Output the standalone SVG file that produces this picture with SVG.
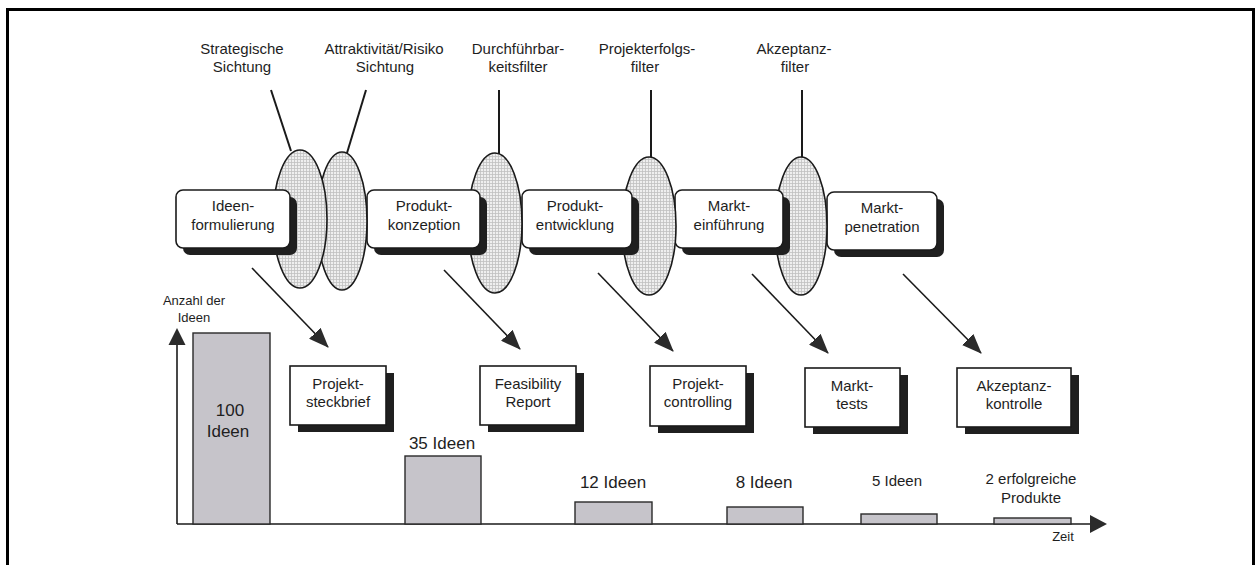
<svg xmlns="http://www.w3.org/2000/svg" width="1255" height="565" viewBox="0 0 1255 565">
  <defs>
    <pattern id="mesh" width="3" height="3" patternUnits="userSpaceOnUse">
      <rect width="3" height="3" fill="#efefef"/>
      <path d="M0 0.5H3M0.5 0V3" stroke="#c0c0c0" stroke-width="0.8"/>
    </pattern>
    <marker id="head" viewBox="0 0 20 16" refX="19" refY="8" markerWidth="20" markerHeight="16" markerUnits="userSpaceOnUse" orient="auto">
      <path d="M0 0L20 8L0 16Z" fill="#2b2b2b"/>
    </marker>
    <style>
      text { font-family: "Liberation Sans", Arial, sans-serif; fill: #1e1e1e; text-anchor: middle; }
      .t15 { font-size: 15px; }
      .t17 { font-size: 17px; }
      .t13 { font-size: 13px; }
      .shadow { fill: #1f1f1f; }
      .box { fill: #ffffff; stroke: #1a1a1a; stroke-width: 1.6; }
      .filter { fill: url(#mesh); stroke: #1a1a1a; stroke-width: 1.6; }
      .bar { fill: #c6c4ca; stroke: #2a2a2a; stroke-width: 1.4; }
      .wire { stroke: #1a1a1a; stroke-width: 2; fill: none; }
      .arrow { stroke: #1a1a1a; stroke-width: 1.6; fill: none; marker-end: url(#head); }
    </style>
  </defs>

  <rect x="7.5" y="9.5" width="1246" height="600" fill="#ffffff" stroke="#000000" stroke-width="3"/>

  <!-- filter labels -->
  <g id="label-strategisch">
    <text class="t15" x="242" y="54">Strategische</text>
    <text class="t15" x="242" y="72">Sichtung</text>
  </g>
  <g id="label-attraktivitaet">
    <text class="t15" x="384" y="54">Attraktivität/Risiko</text>
    <text class="t15" x="385" y="72">Sichtung</text>
  </g>
  <g id="label-durchfuehrbarkeit">
    <text class="t15" x="518" y="54">Durchführbar-</text>
    <text class="t15" x="518" y="72">keitsfilter</text>
  </g>
  <g id="label-projekterfolg">
    <text class="t15" x="647" y="54">Projekterfolgs-</text>
    <text class="t15" x="645" y="72">filter</text>
  </g>
  <g id="label-akzeptanz">
    <text class="t15" x="794" y="54">Akzeptanz-</text>
    <text class="t15" x="795" y="72">filter</text>
  </g>

  <!-- connectors: filter leaders, result arrows, axes -->
  <g id="connectors">
    <line class="wire" x1="271" y1="90" x2="291" y2="151"/>
    <line class="wire" x1="366" y1="90" x2="347" y2="153"/>
    <line class="wire" x1="499" y1="90" x2="499" y2="154"/>
    <line class="wire" x1="651" y1="90" x2="651" y2="157"/>
    <line class="wire" x1="802" y1="90" x2="802" y2="157"/>

    <line class="arrow" x1="252" y1="268" x2="328" y2="347"/>
    <line class="arrow" x1="444" y1="270" x2="520" y2="349"/>
    <line class="arrow" x1="598" y1="273" x2="673" y2="351"/>
    <line class="arrow" x1="752" y1="274" x2="828" y2="353"/>
    <line class="arrow" x1="903" y1="274" x2="981" y2="353"/>

    <line x1="177" y1="524" x2="177" y2="340" stroke="#1a1a1a" stroke-width="1.6"/>
    <path d="M168.5 345L177 328L185.5 345Z" fill="#2b2b2b"/>
    <line x1="177" y1="524" x2="1094" y2="524" stroke="#1a1a1a" stroke-width="1.6"/>
    <path d="M1090 515L1107 524L1090 533Z" fill="#2b2b2b"/>
  </g>

  <!-- process stages and filters (stacking order matters) -->
  <g id="stage-marktpenetration">
    <rect class="shadow" x="834" y="199" width="110" height="58" rx="7"/>
    <rect class="box" x="827" y="192" width="110" height="58" rx="7"/>
    <text class="t15" x="882" y="213">Markt-</text>
    <text class="t15" x="882" y="232">penetration</text>
  </g>
  <g id="filter-akzeptanz">
    <ellipse class="filter" cx="801" cy="226" rx="26" ry="69"/>
  </g>
  <g id="stage-markteinfuehrung">
    <rect class="shadow" x="682" y="197" width="108" height="58" rx="7"/>
    <rect class="box" x="675" y="190" width="108" height="58" rx="7"/>
    <text class="t15" x="729" y="211">Markt-</text>
    <text class="t15" x="729" y="230">einführung</text>
  </g>
  <g id="filter-projekterfolg">
    <ellipse class="filter" cx="649" cy="226" rx="27" ry="69"/>
  </g>
  <g id="stage-produktentwicklung">
    <rect class="shadow" x="529" y="197" width="110" height="58" rx="7"/>
    <rect class="box" x="522" y="190" width="110" height="58" rx="7"/>
    <text class="t15" x="575" y="211">Produkt-</text>
    <text class="t15" x="575" y="230">entwicklung</text>
  </g>
  <g id="filter-durchfuehrbarkeit">
    <ellipse class="filter" cx="495" cy="223" rx="27" ry="70"/>
  </g>
  <g id="stage-produktkonzeption">
    <rect class="shadow" x="374" y="197" width="113" height="58" rx="7"/>
    <rect class="box" x="367" y="190" width="113" height="58" rx="7"/>
    <text class="t15" x="424" y="211">Produkt-</text>
    <text class="t15" x="424" y="230">konzeption</text>
  </g>
  <g id="filter-attraktivitaet">
    <ellipse class="filter" cx="342" cy="221" rx="25" ry="69"/>
  </g>
  <g id="filter-strategisch">
    <ellipse class="filter" cx="300" cy="219" rx="27" ry="69"/>
  </g>
  <g id="stage-ideenformulierung">
    <rect class="shadow" x="183" y="197" width="114" height="58" rx="7"/>
    <rect class="box" x="176" y="190" width="114" height="58" rx="7"/>
    <text class="t15" x="233" y="211">Ideen-</text>
    <text class="t15" x="233" y="230">formulierung</text>
  </g>

  <!-- result documents -->
  <g id="doc-steckbrief">
    <rect class="shadow" x="298" y="373" width="96" height="59"/>
    <rect class="box" x="290" y="366" width="96" height="59"/>
    <text class="t15" x="338" y="389">Projekt-</text>
    <text class="t15" x="338" y="407">steckbrief</text>
  </g>
  <g id="doc-feasibility">
    <rect class="shadow" x="488" y="373" width="96" height="59"/>
    <rect class="box" x="480" y="366" width="96" height="59"/>
    <text class="t15" x="528" y="389">Feasibility</text>
    <text class="t15" x="528" y="407">Report</text>
  </g>
  <g id="doc-controlling">
    <rect class="shadow" x="658" y="373" width="96" height="60"/>
    <rect class="box" x="650" y="366" width="96" height="60"/>
    <text class="t15" x="698" y="389">Projekt-</text>
    <text class="t15" x="698" y="407">controlling</text>
  </g>
  <g id="doc-markttests">
    <rect class="shadow" x="813" y="375" width="95" height="59"/>
    <rect class="box" x="805" y="368" width="95" height="59"/>
    <text class="t15" x="852" y="391">Markt-</text>
    <text class="t15" x="852" y="409">tests</text>
  </g>
  <g id="doc-akzeptanzkontrolle">
    <rect class="shadow" x="965" y="375" width="114" height="59"/>
    <rect class="box" x="957" y="368" width="114" height="59"/>
    <text class="t15" x="1014" y="391">Akzeptanz-</text>
    <text class="t15" x="1014" y="409">kontrolle</text>
  </g>

  <!-- idea count chart -->
  <g id="axis-labels">
    <text class="t13" x="194" y="305">Anzahl der</text>
    <text class="t13" x="194" y="322">Ideen</text>
    <text class="t13" x="1063" y="541">Zeit</text>
  </g>
  <g id="bar-100">
    <rect class="bar" x="193" y="333" width="77" height="191"/>
    <text class="t17" x="230" y="416">100</text>
    <text class="t17" x="228" y="437">Ideen</text>
  </g>
  <g id="bar-35">
    <rect class="bar" x="405" y="456" width="76" height="68"/>
    <text class="t17" x="442" y="449">35 Ideen</text>
  </g>
  <g id="bar-12">
    <rect class="bar" x="575" y="502" width="77" height="22"/>
    <text class="t17" x="613" y="488">12 Ideen</text>
  </g>
  <g id="bar-8">
    <rect class="bar" x="727" y="507" width="76" height="17"/>
    <text class="t17" x="764" y="488">8 Ideen</text>
  </g>
  <g id="bar-5">
    <rect class="bar" x="861" y="514" width="76" height="10"/>
    <text class="t15" x="897" y="486">5 Ideen</text>
  </g>
  <g id="bar-2">
    <rect class="bar" x="994" y="518" width="77" height="6"/>
    <text class="t15" x="1031" y="484">2 erfolgreiche</text>
    <text class="t15" x="1031" y="503">Produkte</text>
  </g>
</svg>
